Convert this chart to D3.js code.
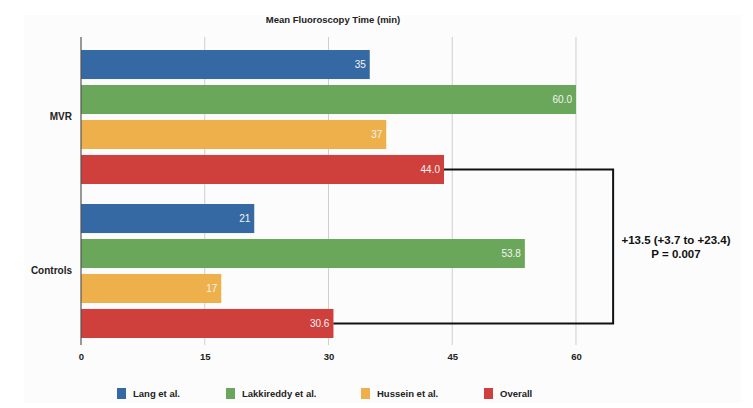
<!DOCTYPE html>
<html>
<head>
<meta charset="utf-8">
<script src="https://cdn.jsdelivr.net/npm/d3@7"></script>
<style>
  html, body { margin: 0; padding: 0; background: #ffffff; }
  svg { display: block; font-family: "Liberation Sans", Arial, Helvetica, sans-serif; }
</style>
</head>
<body>
<svg id="chart" width="753" height="408"></svg>
<script>
// ---- data ----
const groups = ["MVR", "Controls"];
const seriesNames = ["Lang et al.", "Lakkireddy et al.", "Hussein et al.", "Overall"];
const mvrValues = [35, 60.0, 37, 44.0];
const controlValues = [21, 53.8, 17, 30.6];
const valueLabels = [["35", "60.0", "37", "44.0"], ["21", "53.8", "17", "30.6"]];
const xTicks = [0, 15, 30, 45, 60];
const seriesColors = ["#3569a4", "#6aa75a", "#eeb04a", "#cf3f3b"];
const titleText = "Mean Fluoroscopy Time (min)";
const bracketX = 64.5;
const annotationLines = ["+13.5 (+3.7 to +23.4)", "P = 0.007"];

const groupValues = [mvrValues, controlValues];

const svg = d3.select("#chart");
const W = 753, H = 408;

// very faint panel
svg.append("rect").attr("x", 24).attr("y", 15).attr("width", 717).attr("height", 388).attr("fill", "#fcfcfc");

const x = d3.scaleLinear().domain([0, 60]).range([81, 576]);
const y0 = d3.scaleBand().domain(groups).range([40, 348]).paddingInner(0.13).paddingOuter(0.065);
const y1 = d3.scaleBand().domain(seriesNames).range([0, y0.bandwidth()]).paddingInner(0.17).paddingOuter(0);

// gridlines
const gridTop = 37, gridBottom = 345;
svg.append("g").selectAll("line").data(xTicks.filter(d => d > 0)).join("line")
  .attr("x1", d => x(d)).attr("x2", d => x(d))
  .attr("y1", gridTop).attr("y2", gridBottom)
  .attr("stroke", "#cfcfcf").attr("stroke-width", 1);

// bars
const g = svg.append("g");
groups.forEach((grp, gi) => {
  const gg = g.append("g").attr("transform", `translate(0,${y0(grp)})`);
  const data = seriesNames.map((s, i) => ({ s, i, v: groupValues[gi][i], label: valueLabels[gi][i] }));
  gg.selectAll("rect").data(data).join("rect")
    .attr("x", x(0)).attr("y", d => y1(d.s))
    .attr("width", d => x(d.v) - x(0)).attr("height", y1.bandwidth())
    .attr("fill", d => seriesColors[d.i]);
  gg.selectAll("text").data(data).join("text")
    .attr("x", d => x(d.v) - 4).attr("y", d => y1(d.s) + y1.bandwidth() / 2)
    .attr("dy", "0.35em").attr("text-anchor", "end")
    .attr("fill", "#f4f4f4").attr("font-size", 10)
    .text(d => d.label);
});

// left axis line
svg.append("line").attr("x1", x(0)).attr("x2", x(0)).attr("y1", gridTop).attr("y2", gridBottom)
  .attr("stroke", "#555").attr("stroke-width", 1.2);

// x axis labels
const xAxis = d3.axisBottom(x).tickValues(xTicks).tickSize(0).tickPadding(0);
const xa = svg.append("g").attr("transform", `translate(0,${357})`).call(xAxis);
xa.select(".domain").remove();
xa.selectAll("text").attr("font-size", 9.5).attr("font-weight", "bold").attr("fill", "#222").attr("dy", "0.35em").attr("y", 0)
  .attr("font-family", "'Liberation Sans', Arial, sans-serif");

// y category labels
const ya = svg.append("g").attr("transform", `translate(${72},0)`)
  .call(d3.axisLeft(y0).tickSize(0).tickPadding(0));
ya.select(".domain").remove();
ya.selectAll("text").attr("font-size", 10).attr("font-weight", "bold").attr("fill", "#222")
  .attr("font-family", "'Liberation Sans', Arial, sans-serif");

// title
svg.append("text").attr("x", 333).attr("y", 20).attr("dy", "0.35em").attr("text-anchor", "middle")
  .attr("font-size", 9.5).attr("font-weight", "bold").attr("fill", "#222").text(titleText);

// bracket
const yTop = y0("MVR") + y1("Overall") + y1.bandwidth() / 2;
const yBot = y0("Controls") + y1("Overall") + y1.bandwidth() / 2;
const path = d3.path();
path.moveTo(x(mvrValues[3]), yTop);
path.lineTo(x(bracketX), yTop);
path.lineTo(x(bracketX), yBot);
path.lineTo(x(controlValues[3]), yBot);
svg.append("path").attr("d", path.toString()).attr("fill", "none").attr("stroke", "#111").attr("stroke-width", 2);

// annotation
const ann = svg.append("text").attr("x", 676).attr("text-anchor", "middle")
  .attr("font-size", 11.5).attr("font-weight", "bold").attr("fill", "#111");
annotationLines.forEach((t, i) => {
  ann.append("tspan").attr("x", 676).attr("y", 240 + i * 14).attr("dy", "0.35em").text(t);
});

// legend
const legendX = [117, 226, 361, 484];
const lg = svg.append("g");
seriesNames.forEach((s, i) => {
  lg.append("rect").attr("x", legendX[i]).attr("y", 388).attr("width", 9).attr("height", 11).attr("fill", seriesColors[i]);
  lg.append("text").attr("x", legendX[i] + 16).attr("y", 393.5).attr("dy", "0.35em")
    .attr("font-size", 9.5).attr("font-weight", "bold").attr("fill", "#222").text(s);
});
</script>
</body>
</html>
